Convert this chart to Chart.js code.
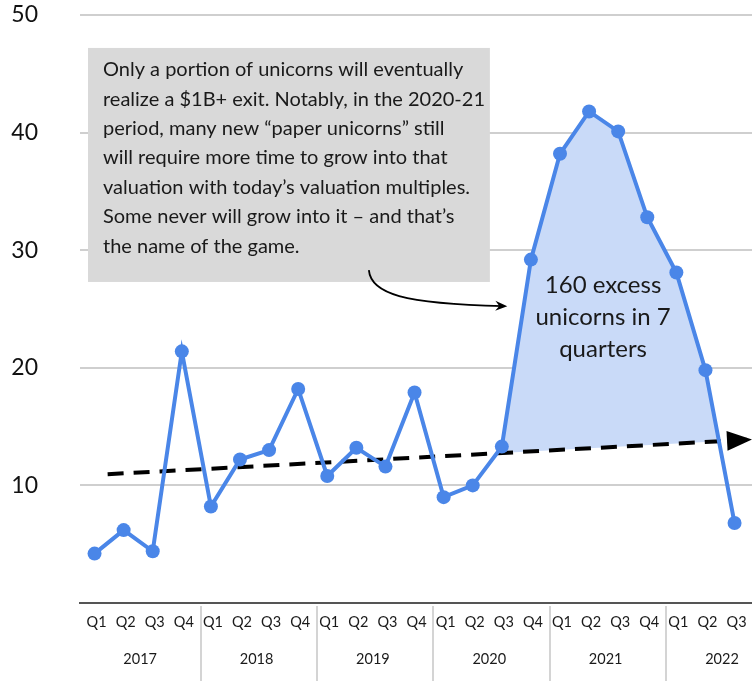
<!DOCTYPE html>
<html><head><meta charset="utf-8">
<script src="https://cdn.jsdelivr.net/npm/chart.js@4/dist/chart.umd.min.js"></script>
<style>html,body{margin:0;padding:0;background:#fff;}#wrap{width:752px;height:681px;position:relative}</style>
</head><body><div id="wrap"><canvas id="c"></canvas></div>
<script>
// ---- data ----
const quarters = ['Q1','Q2','Q3','Q4','Q1','Q2','Q3','Q4','Q1','Q2','Q3','Q4','Q1','Q2','Q3','Q4','Q1','Q2','Q3','Q4','Q1','Q2','Q3'];
const years = ['2017','2018','2019','2020','2021','2022'];
const unicorns = [4.2,6.2,4.4,21.4,8.2,12.2,13.0,18.2,10.8,13.2,11.6,17.9,9.0,10.0,13.3,29.2,38.2,41.8,40.1,32.8,28.1,19.8,6.8];
// trend line (start / end), in [quarter index, value]
const trendStart = [0.45, 10.95];
const trendEnd = [22.6, 13.9];
// shaded "excess" region: quarters 2020 Q3 .. 2022 Q2 plus where the drop meets the trend
const excessFirst = 14, excessLast = 21;
const excessEdge = [21.45, 13.75];
const noteLines = ['Only a portion of unicorns will eventually','realize a $1B+ exit. Notably, in the 2020-21','period, many new \u201cpaper unicorns\u201d still','will require more time to grow into that','valuation with today\u2019s valuation multiples.','Some never will grow into it \u2013 and that\u2019s','the name of the game.'];
const excessLines = ['160 excess','unicorns in 7','quarters'];

const FONT = 'Lato, "Source Sans Pro", "Noto Sans", sans-serif';
const lineData = unicorns.map((v,i)=>({x:i,y:v}));
const excessData = unicorns.slice(excessFirst, excessLast+1).map((v,i)=>({x:excessFirst+i,y:v})).concat([{x:excessEdge[0],y:excessEdge[1]}]);
const trendData = [{x:trendStart[0],y:trendStart[1]},{x:trendEnd[0],y:trendEnd[1]}];

const deco = {
  id:'deco',
  beforeDatasetsDraw(chart){
    const {ctx, scales:{x,y}} = chart;
    ctx.save();
    ctx.fillStyle = '#d9d9d9';
    const x0 = x.getPixelForValue(-0.225), x1 = x.getPixelForValue(13.59);
    const y0 = y.getPixelForValue(47.2), y1 = y.getPixelForValue(27.3);
    ctx.fillRect(x0, y0, x1-x0, y1-y0);
    ctx.restore();
  },
  afterDatasetsDraw(chart){
    const {ctx, scales:{x,y}, chartArea} = chart;
    ctx.save();
    // note text
    ctx.fillStyle = '#1a1a1a';
    ctx.font = '20px ' + FONT;
    ctx.textBaseline = 'middle';
    ctx.textAlign = 'left';
    const tx = x.getPixelForValue(0.29);
    const ty = y.getPixelForValue(45.35);
    noteLines.forEach((t,i)=>ctx.fillText(t, tx, ty + i*29.4));
    // curved arrow
    const p0=[x.getPixelForValue(9.43), y.getPixelForValue(28.3)];
    const c1=[x.getPixelForValue(9.5), y.getPixelForValue(26.3)];
    const c2=[x.getPixelForValue(10.6), y.getPixelForValue(25.45)];
    const p1=[x.getPixelForValue(14.05), y.getPixelForValue(25.25)];
    ctx.strokeStyle='#000'; ctx.lineWidth=1.8;
    ctx.beginPath(); ctx.moveTo(p0[0],p0[1]); ctx.bezierCurveTo(c1[0],c1[1],c2[0],c2[1],p1[0],p1[1]); ctx.stroke();
    let ang = Math.atan2(p1[1]-c2[1], p1[0]-c2[0]);
    ctx.fillStyle='#000';
    ctx.beginPath();
    ctx.moveTo(p1[0]+4*Math.cos(ang), p1[1]+4*Math.sin(ang));
    ctx.lineTo(p1[0]-8*Math.cos(ang)+5*Math.sin(ang), p1[1]-8*Math.sin(ang)-5*Math.cos(ang));
    ctx.lineTo(p1[0]-4*Math.cos(ang), p1[1]-4*Math.sin(ang));
    ctx.lineTo(p1[0]-8*Math.cos(ang)-5*Math.sin(ang), p1[1]-8*Math.sin(ang)+5*Math.cos(ang));
    ctx.closePath(); ctx.fill();
    // trend arrowhead
    const a0=[x.getPixelForValue(trendStart[0]), y.getPixelForValue(trendStart[1])];
    const a1=[x.getPixelForValue(trendEnd[0]), y.getPixelForValue(trendEnd[1])];
    ang = Math.atan2(a1[1]-a0[1], a1[0]-a0[0]);
    const L=25, W=10;
    ctx.beginPath();
    ctx.moveTo(a1[0], a1[1]);
    ctx.lineTo(a1[0]-L*Math.cos(ang)+W*Math.sin(ang), a1[1]-L*Math.sin(ang)-W*Math.cos(ang));
    ctx.lineTo(a1[0]-L*Math.cos(ang)-W*Math.sin(ang), a1[1]-L*Math.sin(ang)+W*Math.cos(ang));
    ctx.closePath(); ctx.fill();
    // excess text
    ctx.fillStyle='#1a1a1a';
    ctx.font = '24px ' + FONT;
    ctx.textAlign='center';
    const ex = x.getPixelForValue(17.48);
    const ey = y.getPixelForValue(27.0);
    excessLines.forEach((t,i)=>ctx.fillText(t, ex, ey + i*32));
    // x-axis category labels
    const bottom = chartArea.bottom;
    ctx.font = '14.5px ' + FONT;
    ctx.fillStyle='#1a1a1a';
    quarters.forEach((q,i)=>ctx.fillText(q, x.getPixelForValue(i)+2, bottom+19));
    years.forEach((yr,k)=>ctx.fillText(yr, x.getPixelForValue(k*4+1.5)+2, bottom+56));
    // separators between years
    ctx.strokeStyle='#d4d4d4'; ctx.lineWidth=2;
    for(let k=1;k<years.length;k++){
      const sx = Math.round(x.getPixelForValue(k*4-0.35));
      ctx.beginPath(); ctx.moveTo(sx, bottom+3); ctx.lineTo(sx, chart.height); ctx.stroke();
    }
    ctx.restore();
  }
};

new Chart(document.getElementById('c'), {
  type:'line',
  data:{
    datasets:[
      {data:lineData, borderColor:'#4a86e8', backgroundColor:'#4a86e8', borderWidth:4, pointRadius:7, pointHoverRadius:7, pointBackgroundColor:'#4a86e8', pointBorderWidth:0, fill:false, order:0, tension:0},
      {data:trendData, borderColor:'#000', borderWidth:4, borderDash:[16,10], pointRadius:0, fill:false, order:1},
      {data:excessData, borderWidth:0, borderColor:'rgba(0,0,0,0)', backgroundColor:'#c9daf8', pointRadius:0, fill:1, order:2}
    ]
  },
  options:{
    responsive:true, maintainAspectRatio:false, animation:false, devicePixelRatio:1,
    layout:{autoPadding:false, padding:{top:15,right:0,left:0,bottom:0}},
    plugins:{legend:{display:false}, tooltip:{enabled:false}},
    events:[],
    scales:{
      x:{type:'linear', min:-0.5, max:22.6, grid:{display:false, drawTicks:false}, border:{display:true,color:'#555',width:2}, ticks:{display:false}, afterFit(s){s.height=78; s.paddingLeft=0; s.paddingRight=0;}},
      y:{min:0, max:50, ticks:{stepSize:10, callback:v=> v===0?'':v, font:{size:23, family:FONT}, color:'#111', padding:42}, grid:{color:c=> c.tick && c.tick.value===0 ? 'rgba(0,0,0,0)' : '#cfcfcf', lineWidth:2, drawTicks:false}, border:{display:false}, afterFit(s){s.width=80; s.paddingTop=10; s.paddingBottom=10;}}
    }
  },
  plugins:[deco]
});
</script>
</body></html>
